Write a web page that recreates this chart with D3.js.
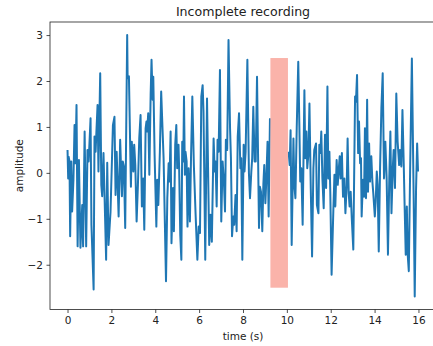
<!DOCTYPE html>
<html>
<head>
<meta charset="utf-8">
<script src="https://cdn.jsdelivr.net/npm/d3@7"></script>
<style>
  body { margin: 0; background: #fff; }
  svg { display: block; overflow: hidden; }
  text { font-family: "DejaVu Sans", sans-serif; fill: #222; }
</style>
</head>
<body>
<div id="plot"></div>
<script>
// signal (time in s, amplitude)
const times = [
  0.00, 0.03, 0.05, 0.09, 0.12, 0.17, 0.21, 0.27, 0.32, 0.36, 0.41, 0.46, 0.52, 0.59, 0.67, 0.71, 0.78, 0.85, 0.91, 0.96,
  0.99, 1.05, 1.09, 1.19, 1.23, 1.28, 1.32, 1.37, 1.41, 1.49, 1.54, 1.58, 1.64, 1.69, 1.76, 1.81, 1.87, 1.96, 2.07, 2.14,
  2.19, 2.24, 2.33, 2.40, 2.48, 2.52, 2.57, 2.63, 2.72, 2.74, 2.80, 2.89, 2.93,
  3.00, 3.04, 3.09, 3.15, 3.21, 3.27, 3.33, 3.39, 3.45, 3.50, 3.56, 3.60, 3.63, 3.68, 3.73, 3.79, 3.83, 3.88, 3.91, 3.97,
  4.05, 4.09, 4.14, 4.21, 4.27, 4.33, 4.38, 4.49, 4.55, 4.61, 4.65, 4.70, 4.74, 4.81, 4.85, 4.91, 4.96, 5.00, 5.06, 5.09,
  5.14, 5.19, 5.23, 5.28, 5.31, 5.35, 5.38, 5.43, 5.47, 5.52, 5.58, 5.63, 5.69, 5.76, 5.84, 5.92, 5.98, 6.04, 6.10, 6.16,
  6.20, 6.28, 6.36,
  6.46, 6.52, 6.58, 6.66, 6.71, 6.75, 6.80, 6.84, 6.89, 6.95, 7.01, 7.07, 7.13, 7.18, 7.22, 7.28, 7.34, 7.41, 7.45, 7.50,
  7.56, 7.60, 7.66, 7.71, 7.76, 7.82, 7.88, 7.92, 7.97, 8.03, 8.07, 8.12, 8.20, 8.27, 8.32, 8.38, 8.42, 8.47, 8.53, 8.58,
  8.64, 8.68, 8.73, 8.77, 8.82, 8.88, 8.93, 8.97, 9.02, 9.06, 9.12, 9.17, 9.23,
  10.04, 10.08, 10.13, 10.17, 10.22, 10.30, 10.34, 10.39, 10.45, 10.52, 10.57, 10.61, 10.66, 10.72, 10.80, 10.84, 10.89,
  10.93, 10.98, 11.03, 11.09, 11.15, 11.21, 11.25, 11.33, 11.37, 11.44, 11.48, 11.53, 11.57, 11.62, 11.68, 11.74, 11.79,
  11.85, 11.89, 11.94, 11.98, 12.04, 12.12, 12.17, 12.21, 12.27, 12.32, 12.36, 12.41, 12.45, 12.51, 12.56, 12.62, 12.67,
  12.73, 12.77, 12.82, 12.86, 12.91, 12.96, 13.03, 13.11, 13.15, 13.20, 13.25, 13.29, 13.34, 13.38, 13.41,
  13.47, 13.52, 13.56, 13.61, 13.66, 13.70, 13.75, 13.79, 13.85, 13.90, 13.94, 14.01, 14.05, 14.10, 14.14, 14.19, 14.25,
  14.31, 14.37, 14.43, 14.49, 14.55, 14.61, 14.67, 14.72, 14.77, 14.83, 14.87, 14.93, 14.99, 15.05, 15.12, 15.16, 15.22,
  15.27, 15.33, 15.37, 15.42, 15.47, 15.51, 15.56, 15.62, 15.70, 15.78, 15.83, 15.89, 15.94, 15.98
];
const amps = [
  0.50, -0.12, 0.35, 0.25, -1.38, 0.25, -0.84, -0.15, 1.04, 0.21, 1.48, -1.60, 0.28, -1.63, -0.70, -1.60, 0.90, -1.60, 0.50, 0.25,
  0.53, 1.19, -1.13, -2.54, 0.79, 0.46, 0.93, 1.48, 0.03, 2.17, -0.26, -0.51, 0.43, -0.54, -1.89, 0.22, -1.57, -0.85, 1.04, 1.22,
  -0.48, 0.46, -0.95, 0.72, -0.51, 0.25, 0.14, -1.20, 3.00, 2.06, 2.10, -0.30, 0.68,
  0.03, 0.61, 0.17, -1.06, -0.26, 0.75, 1.26, -0.73, -0.12, -1.24, 0.97, 1.12, 0.90, 1.30, -0.04, 1.70, 2.46, 1.59, 2.09, 0.39,
  -1.17, -0.15, -0.70, 0.46, 1.77, 0.97, 0.32, -2.36, -0.55, 0.21, -0.19, 0.90, -1.53, -0.33, -1.27, 0.61, 1.04, 0.10, 0.61, 0.07,
  -1.35, -1.89, 0.68, 0.25, 1.66, -0.04, 0.46, 0.25, -1.17, 0.10, -1.06, 0.32, 1.66, 0.17, -0.91, -1.89, -1.17, -1.31, 1.66, 1.91,
  1.33, -1.89, 1.62,
  -1.57, -0.91, -1.50, 0.75, 0.03, 0.25, -0.73, 0.72, 0.46, 2.24, -1.06, 0.25, -0.19, -0.84, 0.72, 0.50, 2.89, 0.97, 0.32, -1.38,
  -0.95, -1.13, -0.48, -1.27, 0.79, 1.30, 0.10, 0.32, -1.89, 0.61, 0.03, 0.46, 2.46, 0.00, -0.55, 0.03, 0.32, 1.44, 0.25, 0.25,
  2.09, 0.64, -1.20, -0.30, -0.41, -1.27, -0.23, 0.17, -0.66, -0.19, 0.68, -0.95, 1.19,
  -0.66, 0.46, 0.17, 0.93, -1.57, 0.75, -0.26, -0.55, 0.97, 2.42, 1.04, -0.19, 0.10, -1.13, 1.80, 0.32, 0.90,
  0.10, 0.39, 1.51, -0.33, -1.82, 0.10, 0.50, 0.64, -0.70, -0.88, 0.61, 0.43, 0.90, -0.12, -0.77, 0.83, -0.33,
  1.88, -0.12, 0.46, -0.41, -2.22, -0.81, -0.04, -0.73, 0.28, -0.26, 0.03, 0.36, -0.12, 0.43, -0.52, -0.12, -0.88,
  -0.26, 0.75, -0.44, -0.73, -0.41, -0.99, -1.67, 1.66, 1.55, 2.13, 0.43, 1.12, 0.21, 0.32, -0.95,
  -0.15, -0.52, 0.97, -0.55, 1.59, -0.41, 0.64, -0.19, 0.36, -0.19, -0.44, -0.95, -0.62, 0.03, -0.26, -1.71, 0.10,
  1.41, 2.17, -0.12, 0.68, -0.12, -1.78, -0.12, 0.90, -0.88, 0.10, 0.50, -0.33, 1.73, 0.68, 0.17, 0.50, 0.14,
  1.37, 0.17, -0.73, -1.78, -0.73, -1.78, -2.14, 0.03, 2.49, -0.48, -2.69, -0.37, 0.64, 0.03
];
// missing stretch of the recording
const gapStart = 9.25, gapEnd = 10.05;
const gapLow = -2.5, gapHigh = 2.5;
const xTicks = [0, 2, 4, 6, 8, 10, 12, 14, 16];
const yTicks = [-2, -1, 0, 1, 2, 3];

const W = 433, H = 346;
const margin = {top: 22, right: -3, bottom: 36.5, left: 50};
const width = W - margin.left - margin.right;
const height = H - margin.top - margin.bottom;

const svg = d3.select("#plot").append("svg")
    .attr("width", W)
    .attr("height", H);
const g = svg.append("g")
    .attr("transform", "translate(" + margin.left + "," + margin.top + ")");

// matplotlib-like 5% margins around the data
const tx = d3.extent(times), ty = d3.extent(amps);
const px = (tx[1] - tx[0]) * 0.05, py = (ty[1] - ty[0]) * 0.05;
const x = d3.scaleLinear().domain([tx[0] - px, 16.8]).range([0, width]);
const y = d3.scaleLinear().domain([ty[0] - py, ty[1] + py]).range([height, 0]);

const pts = times.map((t, i) => ({t: t, v: amps[i]}));
const line = d3.line()
    .x(d => x(d.t))
    .y(d => y(d.v));

// split at the gap so the two parts are not joined
const before = pts.filter(d => d.t < gapStart);
const after = pts.filter(d => d.t > gapEnd);
[before, after].forEach(seg => {
  g.append("path")
      .datum(seg)
      .attr("fill", "none")
      .attr("stroke", "#1f77b4")
      .attr("stroke-width", 2)
      .attr("stroke-linejoin", "round")
      .attr("d", line);
});

g.append("rect")
    .attr("x", x(gapStart))
    .attr("y", y(gapHigh))
    .attr("width", x(gapEnd) - x(gapStart))
    .attr("height", y(gapLow) - y(gapHigh))
    .attr("fill", "#fab3aa");

const fmt = d3.format("d");
const xAxis = d3.axisBottom(x).tickValues(xTicks).tickFormat(fmt).tickSizeInner(3.5).tickSizeOuter(0).tickPadding(3.5);
const yAxis = d3.axisLeft(y).tickValues(yTicks).tickFormat(fmt).tickSizeInner(3.5).tickSizeOuter(0).tickPadding(3.5);

const gx = g.append("g")
    .attr("transform", "translate(0," + height + ")")
    .call(xAxis);
const gy = g.append("g").call(yAxis);
[gx, gy].forEach(a => {
  a.select(".domain").remove();
  a.selectAll("line").attr("stroke", "#222").attr("stroke-width", 0.8);
  a.selectAll("text").style("font-family", "DejaVu Sans").style("font-size", "10.5px").attr("fill", "#222");
});

// spines
g.append("rect")
    .attr("width", width)
    .attr("height", height)
    .attr("fill", "none")
    .attr("stroke", "#222")
    .attr("stroke-width", 0.8);

svg.append("text")
    .attr("x", margin.left + width / 2)
    .attr("y", 16)
    .attr("text-anchor", "middle")
    .style("font-size", "12.6px")
    .text("Incomplete recording");

svg.append("text")
    .attr("x", margin.left + width / 2)
    .attr("y", 339.5)
    .attr("text-anchor", "middle")
    .style("font-size", "10.5px")
    .text("time (s)");

svg.append("text")
    .attr("transform", "translate(23," + (margin.top + height / 2) + ") rotate(-90)")
    .attr("text-anchor", "middle")
    .style("font-size", "10.5px")
    .text("amplitude");
</script>
</body>
</html>
